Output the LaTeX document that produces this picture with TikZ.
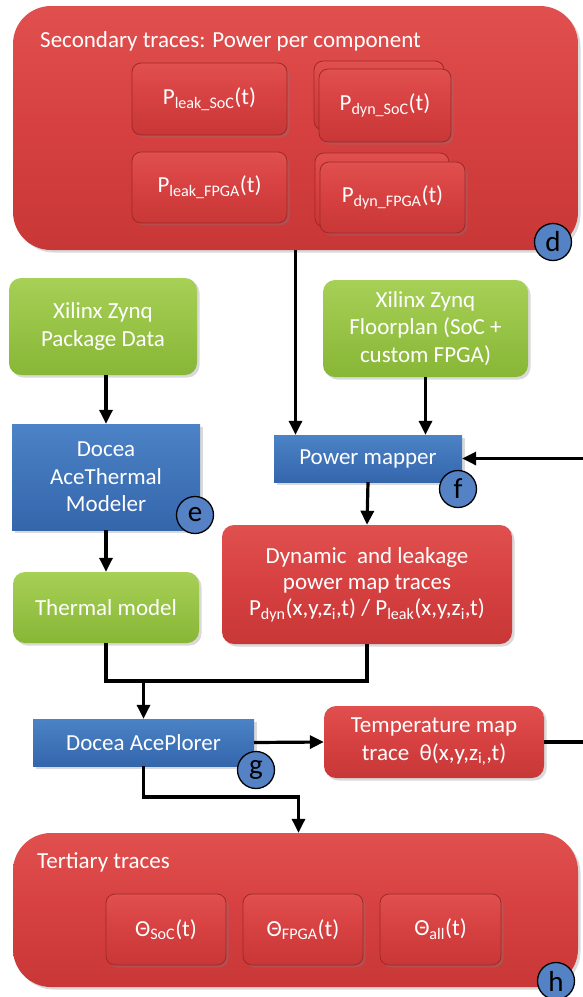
\documentclass[tikz,border=0pt]{standalone}
\usepackage{fontspec}
\setmainfont{Carlito}
\usetikzlibrary{arrows.meta,shadows}

\definecolor{redtop}{RGB}{224,80,78}
\definecolor{redbot}{RGB}{200,55,55}
\definecolor{redmid}{RGB}{214,64,64}
\definecolor{redline}{RGB}{160,40,40}
\definecolor{greentop}{RGB}{166,208,86}
\definecolor{greenbot}{RGB}{136,182,54}
\definecolor{bluetop}{RGB}{76,130,198}
\definecolor{bluebot}{RGB}{52,102,172}
\definecolor{tagblue}{RGB}{84,130,196}

\tikzset{
  box/.style={inner sep=0pt, align=center, text=white,
    font=\fontsize{23}{27.5}\selectfont,
    drop shadow={opacity=0.3, shadow xshift=2.5pt, shadow yshift=-2.5pt}},
  redbox/.style={box, rounded corners=12pt, top color=redtop, bottom color=redbot, middle color=redmid},
  bigred/.style={box, rounded corners=38pt, top color=redtop, bottom color=redbot, middle color=redmid},
  innerred/.style={box, rounded corners=9pt, top color=redtop, bottom color=redbot, middle color=redmid,
    draw=redline, line width=0.8pt},
  greenbox/.style={box, rounded corners=12pt, top color=greentop, bottom color=greenbot},
  bluebox/.style={box, top color=bluetop, bottom color=bluebot},
  tag/.style={circle, draw=black, line width=1.3pt, fill=tagblue, minimum size=37pt, inner sep=0pt,
    font=\fontsize{29}{29}\selectfont},
  title/.style={anchor=west, text=white, inner sep=0pt, font=\fontsize{23}{27}\selectfont},
  arr/.style={line width=3.2pt, -{Triangle[length=14pt,width=13pt]}},
  wire/.style={line width=3.2pt}
}

\begin{document}
\begin{tikzpicture}[x=1pt,y=-1pt]
\useasboundingbox (0,0) rectangle (582,997);

% secondary traces: power per component
\node[bigred, minimum width=565, minimum height=244] (d) at (295.5,128) {};
\node[title] (dtitle) at (40,41) {Secondary traces: Power per component};
\node[innerred, minimum width=155, minimum height=72] (pls) at (209.5,99) {P\textsubscript{leak\_SoC}(t)};
\node[innerred, minimum width=130, minimum height=69] (pdsb) at (379,95.5) {};
\node[innerred, minimum width=132, minimum height=73] (pds) at (385,105.5) {P\textsubscript{dyn\_SoC}(t)};
\node[innerred, minimum width=155, minimum height=71] (plf) at (209.5,187.5) {P\textsubscript{leak\_FPGA}(t)};
\node[innerred, minimum width=134, minimum height=74] (pdfb) at (382,190) {};
\node[innerred, minimum width=145, minimum height=71] (pdf) at (392.5,197.5) {P\textsubscript{dyn\_FPGA}(t)};

% inputs
\node[greenbox, minimum width=188, minimum height=97] (pkg) at (103,326.5) {Xilinx Zynq\\Package Data};
\node[greenbox, minimum width=205, minimum height=97] (plan) at (425.5,328.5) {Xilinx Zynq\\Floorplan (SoC +\\custom FPGA)};

% tools and intermediate traces
\node[bluebox, minimum width=188, minimum height=106] (modeler) at (106,477) {Docea\\AceThermal\\Modeler};
\node[bluebox, minimum width=188, minimum height=47] (mapper) at (368,458.5) {Power mapper};
\node[greenbox, minimum width=186, minimum height=71] (thermal) at (106,607.5) {Thermal model};
\node[redbox, minimum width=290, minimum height=119, font=\fontsize{23}{26}\selectfont] (dyn) at (367,584.5)
  {Dynamic\ \ and leakage\\power map traces\\P\textsubscript{dyn}(x,y,z\textsubscript{i},t) / P\textsubscript{leak}(x,y,z\textsubscript{i},t)};
\node[bluebox, minimum width=221, minimum height=47] (plorer) at (143.5,742.5) {Docea AcePlorer};
\node[redbox, minimum width=220, minimum height=72] (temp) at (434,742) {Temperature map\\trace\ \ θ(x,y,z\textsubscript{i,},t)};

% tertiary traces
\node[bigred, minimum width=565, minimum height=154] (h) at (295.5,910) {};
\node[title] (htitle) at (37,862) {Tertiary traces};
\node[innerred, minimum width=120, minimum height=71] (tsoc) at (166,929.5) {Θ\textsubscript{SoC}(t)};
\node[innerred, minimum width=120, minimum height=71] (tfpga) at (303,929.5) {Θ\textsubscript{FPGA}(t)};
\node[innerred, minimum width=121, minimum height=71] (tall) at (440.5,929.5) {Θ\textsubscript{all}(t)};

% connectors
\draw[arr] (d.south) -- (d.south |- mapper.north);
\draw[arr] (pkg.south -| modeler.north) -- (modeler.north);
\draw[arr] (plan.south) -- (plan.south |- mapper.north);
\draw[arr] (mapper.south) -- (dyn.north);
\draw[arr] (modeler.south) -- (thermal.north);
\coordinate (join) at (143.5,681);
\draw[wire] (thermal.south) |- (join) -| (dyn.south);
\draw[arr] (join) -- (plorer.north);
\draw[arr] (plorer.east) -- (temp.west);
\coordinate (loop) at (600,742);
\draw[arr] (temp.east) -- (loop) |- (mapper.east);
\coordinate (drop) at (143.5,797);
\draw[arr] (plorer.south) -- (drop) -| ([xshift=3pt]h.north);

% labels
\node[tag] (td) at (553,242) {d};
\node[tag] (te) at (195,515) {e};
\node[tag] (tf) at (458,489) {f};
\node[tag] (tg) at (256,770) {g};
\node[tag] (th) at (556,981) {h};
\end{tikzpicture}
\end{document}
